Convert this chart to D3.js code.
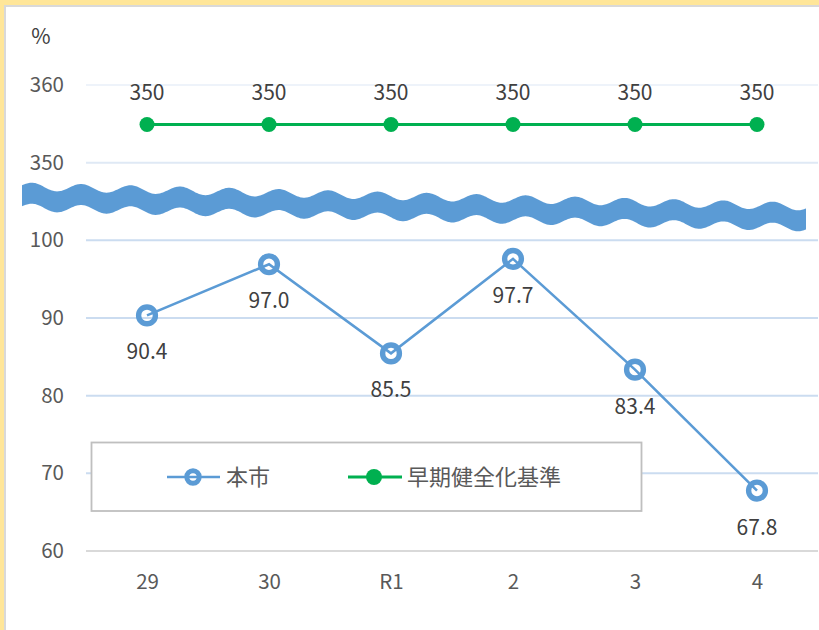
<!DOCTYPE html>
<html lang="ja">
<head>
<meta charset="utf-8">
<script src="https://cdn.jsdelivr.net/npm/d3@7"></script>
<style>
  html, body { margin: 0; padding: 0; background: #fff; }
  svg { display: block; }
  text { font-family: "Noto Sans CJK JP", "Noto Sans", sans-serif; }
</style>
</head>
<body>
<svg id="chart" width="819" height="630"></svg>
<script>
// 年度（平成29年度〜令和4年度）
const categories = ["29", "30", "R1", "2", "3", "4"];
// 本市の比率（％）
const cityValues = [90.4, 97.0, 85.5, 97.7, 83.4, 67.8];
// 早期健全化基準（％）
const standardValues = [350, 350, 350, 350, 350, 350];
// 縦軸の目盛ラベル（100と350の間は省略）
const yTickLabels = ["60", "70", "80", "90", "100", "350", "360"];
const seriesNames = ["本市", "早期健全化基準"];

const W = 819, H = 630;
const svg = d3.select("#chart");

const BLUE = "#5b9bd5";
const GREEN = "#00b050";
const TEXT = "#595959";
const LABEL = "#404040";

// frame
svg.append("rect").attr("width", W).attr("height", H).attr("fill", "#ffe699");
svg.append("rect").attr("x", 4).attr("y", 5).attr("width", W).attr("height", H)
  .attr("fill", "#d9d9d9");
svg.append("rect").attr("x", 6).attr("y", 7).attr("width", W).attr("height", H)
  .attr("fill", "#ffffff");

// scales
const x = d3.scalePoint().domain(categories).range([86, 818]).padding(0.5);
// broken value axis: 60–100 below the break, 350–360 above it
const y = d3.scaleLinear().domain([60, 100, 350, 360]).range([551, 241, 124.5, 85]);
// evenly spaced tick rows for the axis labels
const yTicks = d3.scalePoint().domain(yTickLabels).range([551, 85]);

const gridColor = {
  "60": "#d9d9d9", "70": "#cbdcf0", "80": "#cbdcf0", "90": "#cbdcf0",
  "100": "#cbdcf0", "350": "#dfe9f5", "360": "#eef3fa"
};

// gridlines
svg.append("g").selectAll("line").data(yTickLabels).join("line")
  .attr("x1", 86).attr("x2", 818)
  .attr("y1", d => yTicks(d)).attr("y2", d => yTicks(d))
  .attr("stroke", d => gridColor[d]).attr("stroke-width", 2);

// y axis labels
const yAxis = svg.append("g").attr("transform", "translate(64,0)")
  .call(d3.axisLeft(yTicks).tickSize(0).tickPadding(0));
yAxis.select(".domain").remove();
yAxis.selectAll("text").attr("font-size", 20.5).attr("fill", TEXT)
  .attr("font-family", "'Noto Sans CJK JP', sans-serif");

// x axis labels
const xAxis = svg.append("g").attr("transform", "translate(0,574)")
  .call(d3.axisBottom(x).tickSize(0).tickPadding(0));
xAxis.select(".domain").remove();
xAxis.selectAll("text").attr("font-size", 20.5).attr("fill", TEXT)
  .attr("font-family", "'Noto Sans CJK JP', sans-serif");

// unit
svg.append("text").attr("x", 41).attr("y", 44).attr("text-anchor", "middle")
  .attr("font-size", 21).attr("fill", LABEL).text("%");

// axis break: wavy band
(function drawBreak() {
  const x0 = 22, x1 = 806, c0 = 197, c1 = 217, half = 10.5, amp = 4, lambda = 49.4, peak = 32;
  const center = px => c0 + (c1 - c0) * (px - x0) / (x1 - x0);
  const wave = px => -amp * Math.cos(2 * Math.PI * (px - peak) / lambda);
  const xs = d3.range(x0, x1 + 0.01, 1);
  const top = xs.map(px => [px, center(px) - half + wave(px)]);
  const bottom = xs.map(px => [px, center(px) + half + wave(px)]).reverse();
  svg.append("path")
    .attr("d", d3.line()(top.concat(bottom)) + "Z")
    .attr("fill", BLUE);
})();

// standard line
const standardPts = categories.map((c, i) => [x(c), y(standardValues[i])]);
svg.append("path").attr("d", d3.line()(standardPts))
  .attr("fill", "none").attr("stroke", GREEN).attr("stroke-width", 2.8);
svg.append("g").selectAll("circle").data(standardPts).join("circle")
  .attr("cx", d => d[0]).attr("cy", d => d[1]).attr("r", 7.5).attr("fill", GREEN);
svg.append("g").selectAll("text").data(standardValues).join("text")
  .attr("x", (d, i) => x(categories[i])).attr("y", d => y(d) - 25)
  .attr("text-anchor", "middle").attr("font-size", 21).attr("fill", LABEL)
  .text(d => d);

// city line
const cityPts = categories.map((c, i) => [x(c), y(cityValues[i])]);
svg.append("path").attr("d", d3.line()(cityPts))
  .attr("fill", "none").attr("stroke", BLUE).attr("stroke-width", 2.6);
svg.append("g").selectAll("circle").data(cityPts).join("circle")
  .attr("cx", d => d[0]).attr("cy", d => d[1]).attr("r", 8.4)
  .attr("fill", "none").attr("stroke", BLUE).attr("stroke-width", 5.4);
svg.append("g").selectAll("text").data(cityValues).join("text")
  .attr("x", (d, i) => x(categories[i])).attr("y", d => y(d) + 44)
  .attr("text-anchor", "middle").attr("font-size", 21).attr("fill", LABEL)
  .text(d => d3.format(".1f")(d));

// legend
const lg = svg.append("g");
lg.append("rect").attr("x", 91.5).attr("y", 442.5).attr("width", 550).attr("height", 68.5)
  .attr("fill", "#fff").attr("stroke", "#bfbfbf").attr("stroke-width", 1.8);
const ly = 477;
lg.append("line").attr("x1", 167).attr("x2", 220).attr("y1", ly).attr("y2", ly)
  .attr("stroke", BLUE).attr("stroke-width", 2.6);
lg.append("circle").attr("cx", 193).attr("cy", ly).attr("r", 6.2)
  .attr("fill", "none").attr("stroke", BLUE).attr("stroke-width", 5);
lg.append("text").attr("x", 226).attr("y", ly + 8).attr("font-size", 22)
  .attr("fill", TEXT).text(seriesNames[0]);
lg.append("line").attr("x1", 348).attr("x2", 402).attr("y1", ly).attr("y2", ly)
  .attr("stroke", GREEN).attr("stroke-width", 2.8);
lg.append("circle").attr("cx", 374).attr("cy", ly).attr("r", 8).attr("fill", GREEN);
lg.append("text").attr("x", 407).attr("y", ly + 8).attr("font-size", 22)
  .attr("fill", TEXT).text(seriesNames[1]);
</script>
</body>
</html>
